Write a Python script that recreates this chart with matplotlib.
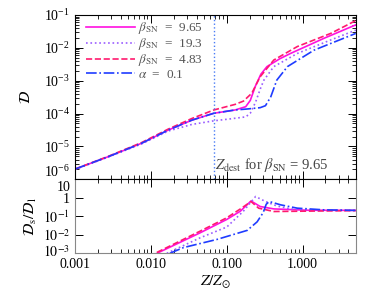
import numpy as np
import matplotlib
matplotlib.use("Agg")
import matplotlib.pyplot as plt
import matplotlib.transforms as mtrans
from matplotlib.ticker import LogLocator, NullFormatter, FixedLocator, FixedFormatter

plt.rcParams['font.family'] = ['Liberation Serif', 'DejaVu Serif']
plt.rcParams['mathtext.fontset'] = 'stix'
plt.rcParams['font.size'] = 9

# ---- data (log10 Z/Zsun, log10 D) ----
top_z_solid = [-3.0, -2.56, -2.12, -1.77, -1.46, -1.17, -0.89, -0.75, -0.69, -0.62, -0.55, -0.47, -0.30, -0.16, 0.28, 0.70]
top_d_solid = [-5.69, -5.31, -4.90, -4.50, -4.20, -3.99, -3.89, -3.79, -3.60, -3.15, -2.80, -2.57, -2.33, -2.17, -1.71, -1.30]

top_z_dot = [-3.0, -2.56, -2.12, -1.77, -1.46, -1.17, -0.95, -0.75, -0.69, -0.62, -0.55, -0.51, -0.38, -0.07, 0.37, 0.70]
top_d_dot = [-5.70, -5.32, -4.92, -4.53, -4.33, -4.22, -4.16, -4.10, -3.99, -3.65, -3.20, -2.98, -2.57, -2.17, -1.76, -1.46]

top_z_dash = [-3.0, -2.56, -2.12, -1.77, -1.46, -1.17, -0.89, -0.78, -0.67, -0.56, -0.38, -0.07, 0.37, 0.70]
top_d_dash = [-5.69, -5.30, -4.88, -4.47, -4.15, -3.89, -3.72, -3.62, -3.38, -2.88, -2.37, -1.96, -1.56, -1.17]

top_z_alpha = [-3.0, -2.56, -2.12, -1.77, -1.46, -1.17, -0.89, -0.73, -0.56, -0.49, -0.42, -0.34, -0.20, 0.15, 0.70]
top_d_alpha = [-5.69, -5.31, -4.90, -4.50, -4.20, -3.99, -3.89, -3.86, -3.82, -3.76, -3.49, -2.98, -2.57, -2.07, -1.56]

# ratio D_s / D_l (log10)
bot_z_solid = [-1.92, -1.35, -1.0, -0.82, -0.68, -0.56, -0.38, 0.06, 0.70]
bot_r_solid = [-3.0, -1.89, -1.17, -0.72, -0.17, -0.47, -0.60, -0.67, -0.68]

bot_z_dot = [-1.79, -1.35, -1.0, -0.78, -0.62, -0.49, -0.34, -0.16, 0.10, 0.70]
bot_r_dot = [-3.0, -2.16, -1.58, -0.72, 0.07, -0.20, -0.44, -0.60, -0.67, -0.68]

bot_z_dash = [-1.92, -1.35, -1.0, -0.82, -0.68, -0.58, -0.38, 0.06, 0.70]
bot_r_dash = [-2.95, -1.80, -1.08, -0.60, -0.20, -0.56, -0.74, -0.72, -0.69]

bot_z_alpha = [-1.75, -1.57, -1.13, -0.73, -0.60, -0.52, -0.48, -0.44, -0.29, -0.07, 0.28, 0.70]
bot_r_alpha = [-3.0, -2.69, -2.25, -1.76, -1.30, -0.80, -0.35, -0.20, -0.38, -0.56, -0.65, -0.68]

z_dest = 0.068

labels = [r'$\beta_{\rm SN}$  =  9.65', r'$\beta_{\rm SN}$  =  19.3',
          r'$\beta_{\rm SN}$  =  4.83', r'$\alpha$  =  0.1']
colors = ['#ff10e0', '#9a5cff', '#ff1a6e', '#1f3cff']
styles = ['-', ':', '--', '-.']

top_series = [(top_z_solid, top_d_solid), (top_z_dot, top_d_dot),
              (top_z_dash, top_d_dash), (top_z_alpha, top_d_alpha)]
bot_series = [(bot_z_solid, bot_r_solid), (bot_z_dot, bot_r_dot),
              (bot_z_dash, bot_r_dash), (bot_z_alpha, bot_r_alpha)]

fig = plt.figure(figsize=(3.74, 2.99), dpi=100)
ax1 = fig.add_axes([0.2005, 0.4003, 0.7505, 0.5495])
ax2 = fig.add_axes([0.2005, 0.1528, 0.7505, 0.2475], sharex=ax1)

for (zz, dd), c, ls, lab in zip(top_series, colors, styles, labels):
    ax1.plot(10 ** np.array(zz), 10 ** np.array(dd), color=c, ls=ls, lw=1.2, label=lab)
for (zz, rr), c, ls in zip(bot_series, colors, styles):
    ax2.plot(10 ** np.array(zz), 10 ** np.array(rr), color=c, ls=ls, lw=1.2)

ax1.axvline(z_dest, color='#4a7cf5', ls=':', lw=1.0)
ax1.text(z_dest * 1.02, 1.45e-6, r'$Z_{\rm dest}$ for $\beta_{\rm SN}$ = 9.65',
         color='#444444', fontsize=10.5, va='bottom', ha='left')

ax1.set_xscale('log')
ax1.set_yscale('log')
ax2.set_yscale('log')
ax1.set_xlim(1e-3, 5.0)
ax1.set_ylim(1e-6, 1e-1)
ax2.set_ylim(1e-3, 10)

ax1.set_ylabel(r'$\mathcal{D}$', fontsize=11, labelpad=8)
ax2.set_ylabel(r'$\mathcal{D}_{\rm s}/\mathcal{D}_{\rm l}$', fontsize=11, labelpad=3)
ax2.set_xlabel(r'$Z/Z_{\odot}$', fontsize=11, labelpad=2)

ax1.tick_params(labelbottom=False)
for ax in (ax1, ax2):
    ax.tick_params(which='both', direction='in', top=True, right=True, labelsize=10)
    ax.tick_params(which='major', length=6, width=0.7)
    ax.tick_params(which='minor', length=3, width=0.6)

ax1.yaxis.set_major_locator(LogLocator(base=10, numticks=10))
ax1.yaxis.set_minor_locator(LogLocator(base=10, subs=np.arange(2, 10), numticks=10))
ax1.yaxis.set_minor_formatter(NullFormatter())

ax2.yaxis.set_major_locator(FixedLocator([1e-3, 1e-2, 1e-1, 1, 10]))
ax2.yaxis.set_major_formatter(FixedFormatter([r'$10^{-3}$', r'$10^{-2}$', r'$10^{-1}$', '1', '10']))
ax2.yaxis.set_minor_locator(FixedLocator([]))
ax2.xaxis.set_major_locator(FixedLocator([1e-3, 1e-2, 1e-1, 1]))
ax2.xaxis.set_major_formatter(FixedFormatter(['0.001', '0.010', '0.100', '1.000']))
ax2.xaxis.set_minor_locator(LogLocator(base=10, subs=np.arange(2, 10), numticks=10))
ax2.xaxis.set_minor_formatter(NullFormatter())

for sp in ax2.spines.values():
    sp.set_color('#888888')
ax2.spines['top'].set_color('black')

leg = ax1.legend(loc='upper left', bbox_to_anchor=(0.02, 1.0), frameon=False,
                 handlelength=3.7, handletextpad=0.25, labelspacing=0.0,
                 borderaxespad=0.0, fontsize=9.5)
for t in leg.get_texts():
    t.set_color('#555555')

# keep the shared-corner labels apart like the reference
fig.canvas.draw()
for lab in ax1.get_yticklabels():
    if lab.get_position()[1] <= 1.01e-6:
        lab.set_transform(lab.get_transform() + mtrans.ScaledTranslation(0, 9 / 100, fig.dpi_scale_trans))
for lab in ax2.get_yticklabels():
    pos = lab.get_position()[1]
    if pos >= 9.9:
        lab.set_transform(lab.get_transform() + mtrans.ScaledTranslation(0, -7 / 100, fig.dpi_scale_trans))
    elif pos <= 1.01e-3:
        lab.set_transform(lab.get_transform() + mtrans.ScaledTranslation(0, 3 / 100, fig.dpi_scale_trans))

fig.savefig('out.png', dpi=100)
